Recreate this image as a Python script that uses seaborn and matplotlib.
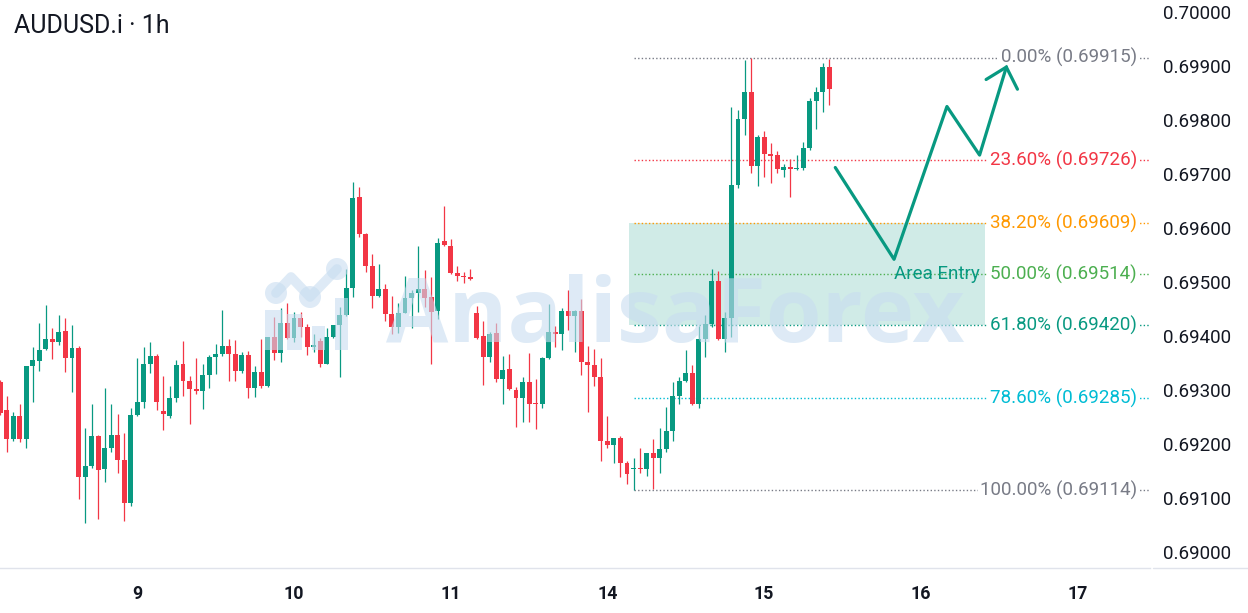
import matplotlib
matplotlib.use("Agg")
import matplotlib.pyplot as plt
from matplotlib.lines import Line2D
from matplotlib.patches import Circle, Rectangle
import numpy as np
import seaborn as sns

title = "AUDUSD.i · 1h"
day_labels = ["9", "10", "11", "14", "15", "16", "17"]
day_bars = [21, 45, 69, 93, 117, 141, 165]

open_ = [0.69314, 0.69263, 0.69209, 0.69252, 0.69209, 0.69345, 0.69354, 0.69376, 0.69394, 0.69389,
         0.69409, 0.69360, 0.69378, 0.69138, 0.69160, 0.69214, 0.69154, 0.69192, 0.69217, 0.69170,
         0.69090, 0.69254, 0.69277, 0.69349, 0.69363, 0.69262, 0.69252, 0.69286, 0.69348, 0.69317,
         0.69301, 0.69299, 0.69328, 0.69361, 0.69366, 0.69382, 0.69366, 0.69335, 0.69365, 0.69303,
         0.69333, 0.69308, 0.69398, 0.69368, 0.69424, 0.69397, 0.69433, 0.69417, 0.69379, 0.69390,
         0.69349, 0.69398, 0.69420, 0.69439, 0.69488, 0.69657, 0.69588, 0.69530, 0.69474, 0.69487,
         0.69441, 0.69416, 0.69443, 0.69470, 0.69479, 0.69487, 0.69472, 0.69447, 0.69575, 0.69567,
         0.69517, 0.69512, 0.69509, 0.69443, 0.69400, 0.69361, 0.69405, 0.69320, 0.69338, 0.69300,
         0.69285, 0.69314, 0.69276, 0.69274, 0.69360, 0.69408, 0.69403, 0.69447, 0.69437, 0.69447,
         0.69351, 0.69346, 0.69325, 0.69206, 0.69199, 0.69211, 0.69165, 0.69154, 0.69156, 0.69154,
         0.69184, 0.69175, 0.69190, 0.69225, 0.69289, 0.69317, 0.69331, 0.69275, 0.69394, 0.69422,
         0.69502, 0.69394, 0.69434, 0.69680, 0.69802, 0.69851, 0.69715, 0.69768, 0.69737, 0.69736,
         0.69707, 0.69713, 0.69710, 0.69712, 0.69748, 0.69836, 0.69852, 0.69899]
high = [0.69319, 0.69288, 0.69260, 0.69275, 0.69345, 0.69380, 0.69424, 0.69457, 0.69414, 0.69439,
        0.69433, 0.69420, 0.69382, 0.69229, 0.69274, 0.69217, 0.69304, 0.69274, 0.69255, 0.69220,
        0.69266, 0.69359, 0.69380, 0.69389, 0.69367, 0.69326, 0.69307, 0.69356, 0.69391, 0.69326,
        0.69359, 0.69348, 0.69365, 0.69385, 0.69448, 0.69394, 0.69393, 0.69371, 0.69373, 0.69344,
        0.69394, 0.69399, 0.69436, 0.69451, 0.69461, 0.69445, 0.69445, 0.69422, 0.69404, 0.69396,
        0.69414, 0.69421, 0.69454, 0.69524, 0.69685, 0.69675, 0.69590, 0.69552, 0.69533, 0.69496,
        0.69475, 0.69461, 0.69512, 0.69485, 0.69567, 0.69522, 0.69510, 0.69581, 0.69640, 0.69579,
        0.69530, 0.69519, 0.69525, 0.69456, 0.69427, 0.69408, 0.69424, 0.69363, 0.69367, 0.69306,
        0.69324, 0.69368, 0.69320, 0.69362, 0.69459, 0.69419, 0.69451, 0.69485, 0.69449, 0.69468,
        0.69382, 0.69376, 0.69359, 0.69251, 0.69212, 0.69214, 0.69169, 0.69174, 0.69192, 0.69184,
        0.69209, 0.69229, 0.69268, 0.69315, 0.69324, 0.69375, 0.69346, 0.69419, 0.69439, 0.69525,
        0.69521, 0.69445, 0.69824, 0.69819, 0.69912, 0.69915, 0.69772, 0.69780, 0.69758, 0.69743,
        0.69719, 0.69727, 0.69735, 0.69760, 0.69840, 0.69861, 0.69906, 0.69913]
low = [0.69254, 0.69186, 0.69206, 0.69204, 0.69192, 0.69277, 0.69336, 0.69374, 0.69357, 0.69383,
       0.69334, 0.69297, 0.69099, 0.69054, 0.69155, 0.69062, 0.69130, 0.69186, 0.69146, 0.69058,
       0.69085, 0.69251, 0.69266, 0.69332, 0.69263, 0.69226, 0.69248, 0.69278, 0.69288, 0.69237,
       0.69293, 0.69265, 0.69304, 0.69329, 0.69363, 0.69317, 0.69317, 0.69332, 0.69285, 0.69287,
       0.69304, 0.69306, 0.69356, 0.69352, 0.69395, 0.69389, 0.69399, 0.69365, 0.69371, 0.69342,
       0.69349, 0.69397, 0.69324, 0.69437, 0.69473, 0.69583, 0.69518, 0.69451, 0.69472, 0.69427,
       0.69404, 0.69406, 0.69442, 0.69414, 0.69445, 0.69454, 0.69349, 0.69431, 0.69567, 0.69514,
       0.69501, 0.69498, 0.69503, 0.69394, 0.69309, 0.69351, 0.69315, 0.69275, 0.69300, 0.69231,
       0.69241, 0.69241, 0.69227, 0.69267, 0.69358, 0.69379, 0.69375, 0.69412, 0.69371, 0.69328,
       0.69260, 0.69307, 0.69169, 0.69192, 0.69165, 0.69139, 0.69126, 0.69114, 0.69146, 0.69141,
       0.69116, 0.69147, 0.69186, 0.69206, 0.69274, 0.69315, 0.69273, 0.69266, 0.69361, 0.69417,
       0.69392, 0.69371, 0.69399, 0.69674, 0.69772, 0.69702, 0.69677, 0.69695, 0.69684, 0.69701,
       0.69695, 0.69658, 0.69707, 0.69707, 0.69745, 0.69783, 0.69814, 0.69828]
close = [0.69258, 0.69210, 0.69252, 0.69209, 0.69344, 0.69355, 0.69375, 0.69394, 0.69389, 0.69407,
         0.69360, 0.69377, 0.69139, 0.69160, 0.69214, 0.69152, 0.69193, 0.69217, 0.69170, 0.69090,
         0.69254, 0.69277, 0.69349, 0.69363, 0.69277, 0.69255, 0.69286, 0.69346, 0.69317, 0.69301,
         0.69299, 0.69328, 0.69361, 0.69367, 0.69382, 0.69366, 0.69335, 0.69365, 0.69303, 0.69333,
         0.69308, 0.69398, 0.69368, 0.69424, 0.69397, 0.69433, 0.69417, 0.69380, 0.69383, 0.69348,
         0.69398, 0.69420, 0.69439, 0.69488, 0.69655, 0.69588, 0.69530, 0.69474, 0.69487, 0.69441,
         0.69416, 0.69443, 0.69470, 0.69479, 0.69487, 0.69470, 0.69445, 0.69573, 0.69568, 0.69516,
         0.69512, 0.69509, 0.69506, 0.69396, 0.69361, 0.69403, 0.69320, 0.69337, 0.69301, 0.69285,
         0.69314, 0.69274, 0.69274, 0.69360, 0.69408, 0.69403, 0.69447, 0.69437, 0.69447, 0.69352,
         0.69346, 0.69325, 0.69206, 0.69199, 0.69211, 0.69165, 0.69144, 0.69156, 0.69154, 0.69183,
         0.69175, 0.69191, 0.69225, 0.69289, 0.69317, 0.69331, 0.69275, 0.69394, 0.69422, 0.69502,
         0.69394, 0.69434, 0.69680, 0.69802, 0.69851, 0.69715, 0.69768, 0.69737, 0.69733, 0.69709,
         0.69713, 0.69709, 0.69712, 0.69748, 0.69836, 0.69852, 0.69899, 0.69857]

# fibonacci retracement (swing low bar 97 -> swing high)
fib_names = ["0.00%", "23.60%", "38.20%", "50.00%", "61.80%", "78.60%", "100.00%"]
fib_prices = [0.69915, 0.69726, 0.69609, 0.69514, 0.69420, 0.69285, 0.69114]
fib_colors = ["#787b86", "#f23645", "#ff9800", "#4caf50", "#089981", "#00bcd4", "#787b86"]
fib_start = 97

# entry zone box and projected path
zone_bars = [96.3, 150.9]
proj_bar = [127.9, 136.9, 145.0, 150.0, 154.1]
proj_price = [0.69712, 0.69542, 0.69825, 0.69735, 0.69898]
head_bar = [151.0, 154.1, 155.8]
head_price = [0.69875, 0.69898, 0.69857]
zone_label = "Area Entry"
watermark = "AnalisaForex"

GREEN = "#089981"
RED = "#f23645"
TXT = "#131722"

sns.set_style("white")
plt.rcParams["font.family"] = ["Roboto", "DejaVu Sans"]

W, H = 1248, 613
fig = plt.figure(figsize=(W / 100, H / 100), dpi=100)
ax = fig.add_axes([0, 45 / H, 1150 / W, 568 / H])

x = np.arange(len(open_))
o = np.array(open_)
c = np.array(close)
colors = [GREEN if cc >= oo else RED for oo, cc in zip(o, c)]
body_lo = np.minimum(o, c)
body_h = np.maximum(np.abs(c - o), 0.000018)

ax.vlines(x, low, high, colors=colors, linewidth=0.9, zorder=2)
ax.bar(x, body_h, bottom=body_lo, width=0.76, color=colors, linewidth=0, zorder=3)

xmax = 176.1
ax.fill_between(zone_bars, fib_prices[4], fib_prices[2], color=GREEN, alpha=0.19, linewidth=0, zorder=0.5)
label_x = 174.1
for name, p, col in zip(fib_names, fib_prices, fib_colors):
    ax.hlines(p, fib_start, xmax, colors=col, linestyles=(0, (1, 1.6)), linewidth=1, zorder=1)
    ax.text(label_x, p, f"{name} ({p:.5f})", ha="right", va="center", color=col, fontsize=13.5,
            bbox=dict(facecolor="white", edgecolor="none", pad=1.5), zorder=4)

sns.lineplot(x=proj_bar, y=proj_price, sort=False, estimator=None, color=GREEN, linewidth=2.3,
             ax=ax, zorder=6)
ax.plot(head_bar, head_price, color=GREEN, linewidth=2.3, zorder=6, solid_joinstyle="miter")
ax.text(150.1, 0.695148, zone_label, ha="right", va="center", color=GREEN, fontsize=13.5, zorder=6)

ax.set_xlim(-0.03, xmax)
ax.set_ylim(0.689704, 0.700222)
ax.set_xticks(day_bars)
ax.set_xticklabels(day_labels, fontsize=12.8, fontweight="bold", color=TXT)
yt = np.round(np.arange(0.690, 0.70001, 0.001), 3)
ax.yaxis.tick_right()
ax.set_yticks(yt)
ax.set_yticklabels([f"{v:.5f}" for v in yt], fontsize=13.5, color=TXT)
ax.tick_params(axis="x", length=0, pad=12.5)
ax.tick_params(axis="y", length=0, pad=9.4)
for s in ["top", "left", "right"]:
    ax.spines[s].set_visible(False)
ax.spines["bottom"].set_color("#e0e3eb")
ax.spines["bottom"].set_linewidth(1)
ax.set_xlabel("")
ax.set_ylabel("")
fig.add_artist(Line2D([1153 / W, 1], [45 / H, 45 / H], transform=fig.transFigure, color="#e0e3eb", lw=1))

fig.text(14 / W, 1 - 26 / H, title, ha="left", va="center", fontsize=18, color=TXT)

# watermark overlay in pixel coordinates, drawn above the chart
wm_ax = fig.add_axes([0, 0, 1, 1], zorder=10)
wm_ax.set_xlim(0, W)
wm_ax.set_ylim(H, 0)
wm_ax.axis("off")
wm_ax.patch.set_alpha(0)
wm = "#c8ddf0"
wa = 0.6
for bx, bw, top in [(265, 18, 310), (287, 15, 314), (312, 13, 326), (335, 13, 298)]:
    wm_ax.add_patch(Rectangle((bx, top), bw, 350 - top, color=wm, alpha=wa, lw=0))
wm_ax.plot([276, 291, 310, 337], [293, 277, 297, 269], color=wm, alpha=wa, lw=7,
           solid_capstyle="round", solid_joinstyle="round")
for cx, cy in [(276, 293), (310, 297), (337, 269)]:
    wm_ax.add_patch(Circle((cx, cy), 11, color=wm, alpha=wa, lw=0))
wm_ax.text(386, 342, watermark, ha="left", va="baseline", fontsize=65, fontweight="bold",
           family="Open Sans", color=wm, alpha=wa)

fig.savefig("out.png", dpi=100, facecolor="white")
